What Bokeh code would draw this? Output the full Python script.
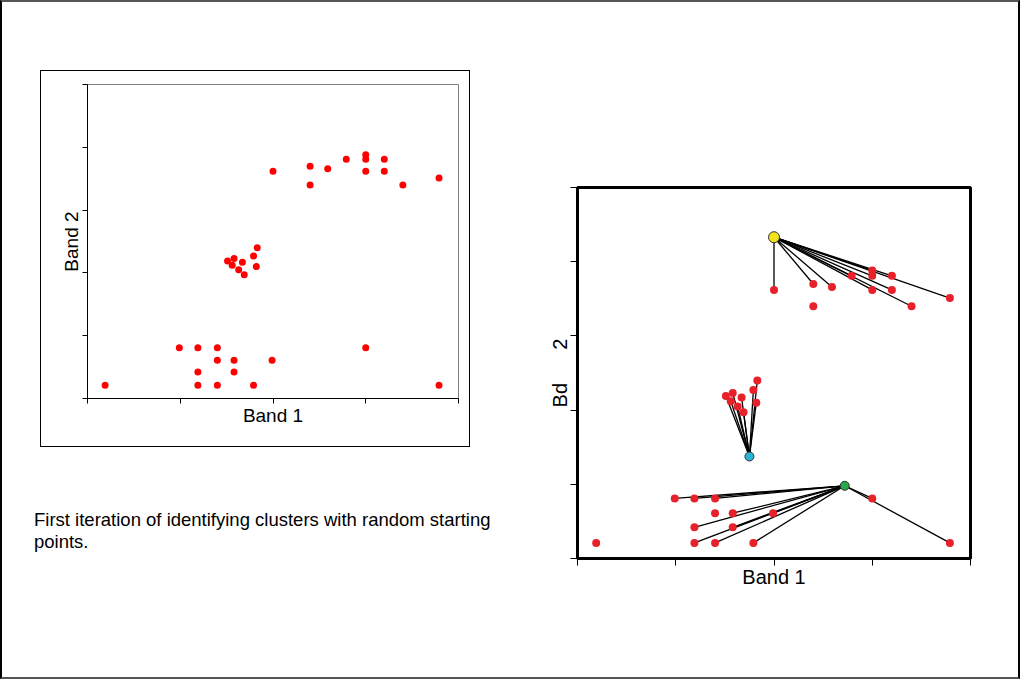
from bokeh.plotting import figure
from bokeh.layouts import column, row
from bokeh.models import Spacer, Div, FixedTicker
from bokeh.embed import file_html
from bokeh.resources import INLINE

# ---------------- data ----------------
band1 = [2.00, 2.40, 2.40, 2.59, 2.79, 3.00, 3.00, 3.00, 3.20, 3.20, 3.40, 3.79,
         1.51, 1.58, 1.56, 1.67, 1.63, 1.69, 1.79, 1.83, 1.82,
         0.99, 1.19, 1.40, 1.40, 1.58, 1.99, 1.19, 1.58, 0.19, 1.19, 1.40, 1.79, 3.00, 3.79]
band2 = [3.62, 3.70, 3.40, 3.66, 3.81, 3.88, 3.81, 3.62, 3.81, 3.62, 3.40, 3.51,
         2.19, 2.23, 2.12, 2.17, 2.05, 1.97, 2.27, 2.40, 2.10,
         0.81, 0.81, 0.81, 0.61, 0.61, 0.61, 0.42, 0.42, 0.21, 0.21, 0.21, 0.21, 0.81, 0.21]
# index of the starting point each pixel is linked to (-1: no line drawn)
assigned = [0, 0, -1, 0, 0, 0, 0, 0, 0, 0, 0, 0,
            1, 1, 1, 1, 1, 1, 1, 1, 1,
            2, 2, 2, -1, 2, 2, 2, 2, -1, 2, 2, 2, 2, 2]
start_b1 = [2.00, 1.75, 2.72]
start_b2 = [4.33, 1.375, 0.98]

x_ticks = [0, 1, 2, 3, 4]
y_ticks = [0, 1, 2, 3, 4, 5]
caption = "First iteration of identifying clusters with random starting<br>points."

FONT = "Liberation Sans"


def style_axes(p, tick_out, label_size, lbl_standoff):
    p.xgrid.visible = False
    p.ygrid.visible = False
    for ax in (p.xaxis[0], p.yaxis[0]):
        ax.major_label_text_font_size = "0px"
        ax.major_label_text_color = None
        ax.major_label_standoff = 0
        ax.major_tick_in = 0
        ax.major_tick_out = tick_out
        ax.minor_tick_line_color = None
        ax.axis_label_text_font = FONT
        ax.axis_label_text_font_style = "normal"
        ax.axis_label_text_font_size = label_size
        ax.axis_label_text_color = "black"
        ax.axis_label_standoff = lbl_standoff
        ax.major_tick_line_color = "black"
    p.xaxis[0].ticker = FixedTicker(ticks=x_ticks, minor_ticks=[])
    p.yaxis[0].ticker = FixedTicker(ticks=y_ticks, minor_ticks=[])


# ---------------- left panel ----------------
p1 = figure(width=430, height=377, x_range=(0, 4), y_range=(0, 5),
            output_backend="svg", toolbar_location=None,
            min_border_left=46, min_border_right=13, min_border_top=13, min_border_bottom=50,
            x_axis_label="Band 1", y_axis_label="Band 2",
            styles={"border": "1px solid black"})
style_axes(p1, 5, "19px", 1)
p1.outline_line_color = "#808080"
p1.outline_line_width = 1
p1.xaxis.axis_line_color = "black"
p1.yaxis.axis_line_color = "black"
p1.scatter(band1, band2, size=7, fill_color="#ff0000", line_color=None)

# ---------------- right panel ----------------
p2 = figure(width=460, height=430, x_range=(0, 4), y_range=(0, 5),
            output_backend="svg", toolbar_location=None,
            min_border_left=37, min_border_right=30, min_border_top=17, min_border_bottom=42,
            x_axis_label="Band 1", y_axis_label="Bd" + "\u00a0" * 6 + "2")
style_axes(p2, 7, "20px", 0)
p2.outline_line_color = "black"
p2.outline_line_width = 3
p2.xaxis.axis_line_color = None
p2.yaxis.axis_line_color = None

seg_x0 = [start_b1[c] for c in assigned if c >= 0]
seg_y0 = [start_b2[c] for c in assigned if c >= 0]
seg_x1 = [x for x, c in zip(band1, assigned) if c >= 0]
seg_y1 = [y for y, c in zip(band2, assigned) if c >= 0]
p2.segment(seg_x0, seg_y0, seg_x1, seg_y1, line_color="black", line_width=1.3)
p2.scatter(band1, band2, size=8, fill_color="#e8202a", line_color=None)

start_colors = ["#f2e41c", "#2ab3d9", "#2aa84a"]
start_sizes = [11, 9, 9]
p2.scatter(start_b1, start_b2, size=start_sizes, fill_color=start_colors,
           line_color="#333333", line_width=1)

# ---------------- page layout ----------------
cap = Div(text=caption, width=480, height=50,
          styles={"font-family": FONT + ", Arial, sans-serif", "font-size": "18.5px",
                  "line-height": "22px", "color": "black"})

left_col = column(Spacer(height=68),
                  row(Spacer(width=11, height=10), p1),
                  Spacer(height=57),
                  cap, width=481)
right_col = column(Spacer(height=168), p2)

root = column(row(Spacer(width=27, height=10), left_col, Spacer(width=30, height=10), right_col),
              width=1020, height=679,
              styles={"border": "2px solid black", "border-top-color": "#555555",
                      "border-bottom-color": "#555555", "background": "white"})

open("out.html", "w").write(file_html(root, INLINE))
